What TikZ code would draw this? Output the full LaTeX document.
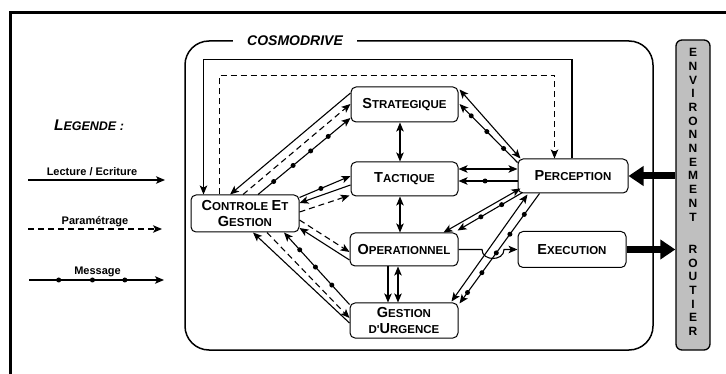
\documentclass[tikz,border=0pt]{standalone}
\usepackage{fontspec}
\setmainfont{Liberation Sans}
\usetikzlibrary{arrows.meta,calc,decorations.markings}
\newcommand\BG[1]{{\fontsize{14.5}{16}\selectfont #1}}
\newcommand\SM[1]{{\fontsize{11.5}{16}\selectfont #1}}
\begin{document}
\begin{tikzpicture}[x=1pt,y=-1pt,
  >={Stealth[length=9pt,width=7.5pt,inset=2.2pt]},
  conn/.style={line width=1.1pt},
  arr/.style={conn,->},
  darr/.style={conn,<->},
  dsh/.style={dash pattern=on 6pt off 4pt},
  msgdot/.style={circle,fill=black,draw=none,inner sep=0pt,minimum size=5pt},
  dotsat/.style={postaction={decorate,decoration={markings,mark=at position #1 with {\node[msgdot]{};}}}},
  layerbox/.style={draw,line width=1pt,rounded corners=5pt,align=center,inner sep=0pt,font=\bfseries\fontsize{11.5}{16}\selectfont},
  thickarr/.style={line width=7pt,-{Triangle[length=15pt,width=19pt]}},
  legtxt/.style={font=\bfseries\fontsize{11}{13}\selectfont,inner sep=0pt}
]
\useasboundingbox (0,0) rectangle (726,374);
% outer frame
\draw[line width=3pt] (10.5,380) -- (10.5,12.5) -- (730,12.5);
% cosmodrive box
\draw[line width=1.5pt,rounded corners=24pt] (185,41) rectangle (653,350);
\node[fill=white,inner xsep=14pt,inner ysep=2pt,font=\bfseries\itshape\fontsize{14}{16}\selectfont] (cosmo) at (295,41) {COSMODRIVE};
% environment
\node[draw,line width=1.3pt,fill=gray!50,rounded corners=6pt,minimum width=34pt,minimum height=310pt,inner sep=0pt] (env) at (693,195) {};
\node[font=\bfseries\fontsize{12}{13.7}\selectfont,align=center,inner sep=0pt] (envtxt) at (693,192) {E\\N\\V\\I\\R\\O\\N\\N\\E\\M\\E\\N\\T\\[18.6pt]R\\O\\U\\T\\I\\E\\R};
% nodes
\node[layerbox,minimum width=107pt,minimum height=35pt] (strat) at (404.5,104.5) {\BG{S}\SM{TRATEGIQUE}};
\node[layerbox,minimum width=107pt,minimum height=34pt] (tact) at (404.5,179) {\BG{T}\SM{ACTIQUE}};
\node[layerbox,minimum width=108pt,minimum height=33pt] (oper) at (404,249.5) {\BG{O}\SM{PERATIONNEL}};
\node[layerbox,minimum width=108pt,minimum height=35pt] (urg) at (404,320.5) {\BG{G}\SM{ESTION}\\\SM{D\textquotesingle}\BG{U}\SM{RGENCE}};
\node[layerbox,minimum width=110pt,minimum height=34pt] (perc) at (573,176) {\BG{P}\SM{ERCEPTION}};
\node[layerbox,minimum width=108pt,minimum height=36pt] (exec) at (572,249.5) {\BG{E}\SM{XECUTION}};
\node[layerbox,minimum width=108pt,minimum height=37pt] (ctrl) at (245,213.5) {\BG{C}\SM{ONTROLE} \BG{E}\SM{T}\\\BG{G}\SM{ESTION}};
% vertical links
\draw[darr] ($(strat.south)+(-4.5,0)$) -- ($(tact.north)+(-4.5,0)$);
\draw[darr] ($(tact.south)+(-4.5,0)$) -- ($(oper.north)+(-4,0)$);
\draw[arr] ($(oper.south)+(-16,0)$) -- ($(urg.north)+(-16,0)$);
\draw[darr] ($(oper.south)+(-6,0)$) -- ($(urg.north)+(-6,0)$);
% loops over the top
\draw[arr] ($(perc.north)+(-1,0)$) -- ++(0,-99) -| ($(ctrl.north west)+(13,0)$);
\draw[arr,dsh] ($(ctrl.north west)+(29,0)$) -- ++(0,-119) -| ($(perc.north west)+(37,0)$);
% controle - strategique
\draw[arr] ($(strat.west)+(0,-11.5)$) -- ($(ctrl.north)+(-15,0)$);
\draw[arr,dsh] ($(ctrl.north)+(-2,0)$) -- ($(strat.west)+(0,-0.5)$);
\draw[arr,dotsat=0.17,dotsat=0.38,dotsat=0.57,dotsat=0.76] ($(ctrl.north)+(13,0)$) -- ($(strat.west)+(0,13.5)$);
% controle - tactique
\draw[arr,dotsat=0.42] ($(ctrl.east)+(0,-16)$) -- ($(tact.west)+(0,-3)$);
\draw[arr] ($(tact.west)+(0,6)$) -- ($(ctrl.east)+(0,-10.5)$);
\draw[arr,dsh] ($(ctrl.east)+(0,-1.5)$) -- ($(tact.south west)+(-1,-1)$);
% controle - operationnel
\draw[arr,dsh] ($(ctrl.east)+(0,6.5)$) -- ($(oper.west)+(0,2.5)$);
\draw[arr] ($(oper.west)+(0,10.5)$) -- ($(ctrl.east)+(0,14.5)$);
% controle - urgence
\draw[arr] ($(urg.west)+(0,2.5)$) -- ($(ctrl.south)+(8,0)$);
\draw[arr,dsh] ($(ctrl.south)+(22,0)$) -- ($(urg.west)+(0,-2.5)$);
\draw[arr,dotsat=0.27,dotsat=0.52,dotsat=0.76] ($(urg.north west)+(0,2)$) -- ($(ctrl.south)+(39,0)$);
% strategique - perception
\draw[darr] ($(strat.north east)+(1,3)$) -- ($(perc.north west)+(3,0)$);
\draw[arr,dotsat=0.24,dotsat=0.53,dotsat=0.8] ($(perc.north west)+(0,4)$) -- ($(strat.east)+(1,-0.5)$);
% tactique - perception
\draw[darr] ($(tact.east)+(0,-10)$) -- ($(perc.west)+(0,-7)$);
\draw[arr,dotsat=0.55] ($(perc.west)+(0,5)$) -- ($(tact.east)+(0,2)$);
% operationnel - perception
\draw[darr] ($(perc.south west)+(3,-5)$) -- ($(oper.north east)+(-15,0)$);
\draw[arr,dotsat=0.32,dotsat=0.64] ($(perc.south west)+(5,-1)$) -- ($(oper.north east)+(-1,-2)$);
% urgence - perception
\draw[darr] ($(perc.south west)+(10,1)$) -- ($(urg.north east)+(-7,-1)$);
\draw[arr,dotsat=0.19,dotsat=0.37,dotsat=0.54,dotsat=0.72,dotsat=0.9] ($(perc.south west)+(22,0)$) -- ($(urg.north east)+(1,1)$);
% operationnel -> execution with a hop
\coordinate (hopA) at (482,249.5);
\coordinate (hopB) at (504,249.5);
\draw[arr] (oper.east) -- (hopA) .. controls ($(hopA)+(0,12)$) and ($(hopB)+(0,12)$) .. (hopB) -- (exec.west);
% environment arrows
\draw[thickarr] (env.west |- perc.east) -- (perc.east);
\draw[thickarr] (exec.east) -- (env.west |- exec.east);
% legend
\node[font=\bfseries\itshape,inner sep=0pt] (leg) at (89,125) {{\fontsize{15.5}{17}\selectfont L}{\fontsize{12.5}{17}\selectfont EGENDE :}};
\coordinate (l1a) at (28,180); \coordinate (l1b) at (165,180);
\coordinate (l2a) at (28,229); \coordinate (l2b) at (162,229);
\coordinate (l3a) at (29,280); \coordinate (l3b) at (164,280);
\node[legtxt] (l1t) at (92,172) {Lecture / Ecriture};
\node[legtxt] (l2t) at (95,222) {Paramétrage};
\node[legtxt] (l3t) at (97.5,272) {Message};
\draw[arr] (l1a) -- (l1b);
\draw[arr,dsh] (l2a) -- (l2b);
\draw[arr,dotsat=0.22,dotsat=0.47,dotsat=0.71] (l3a) -- (l3b);
\end{tikzpicture}
\end{document}
